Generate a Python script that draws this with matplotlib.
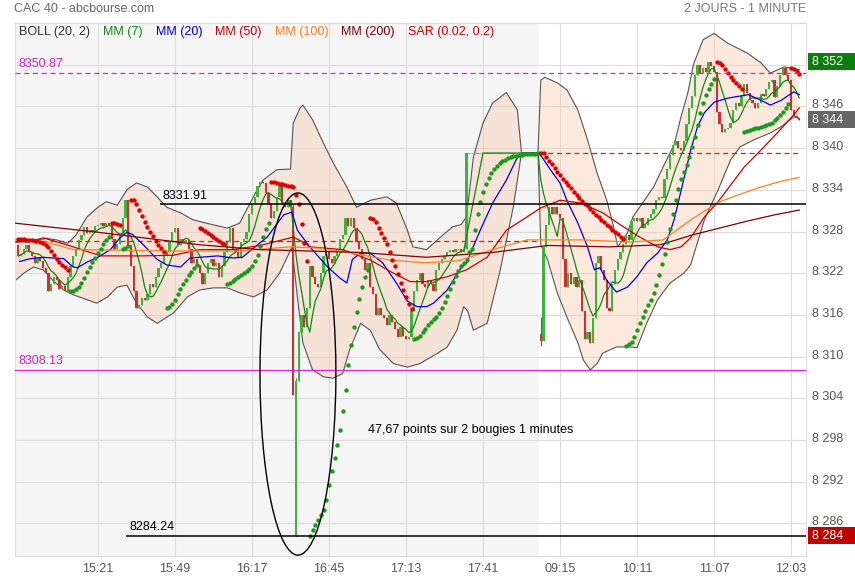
import numpy as np
import pandas as pd
import matplotlib
matplotlib.use("Agg")
import matplotlib.pyplot as plt
from matplotlib.patches import Ellipse, Rectangle
from matplotlib.transforms import blended_transform_factory, ScaledTranslation

plt.rcParams["font.family"] = ["Liberation Sans", "DejaVu Sans"]

# --- candles, 1 minute (close of each minute) ---
DAY1_CLOSE = [
    8324.5, 8324.8, 8325.5, 8326.0, 8325.0, 8324.5, 8323.5, 8324.2, 8323.8, 8322.8,
    8322.0, 8319.5, 8320.5, 8321.5, 8321.0, 8319.8, 8320.2, 8319.5, 8321.5, 8323.0,
    8324.5, 8325.5, 8326.8, 8327.5, 8328.6, 8327.8, 8328.2, 8328.0, 8328.8, 8329.0,
    8329.2, 8328.8, 8329.3, 8329.0, 8327.0, 8325.5, 8326.2, 8327.5, 8330.0, 8332.5,
    8326.0, 8323.0, 8319.5, 8317.0, 8317.5, 8318.5, 8318.2, 8319.0, 8320.5, 8320.0,
    8321.5, 8322.8, 8323.5, 8324.5, 8325.0, 8326.5, 8328.0, 8328.5, 8326.0, 8327.0,
    8326.5, 8326.8, 8325.5, 8323.5, 8324.0, 8323.2, 8322.0, 8320.5, 8322.0, 8323.5,
    8324.0, 8323.0, 8323.5, 8321.5, 8323.0, 8325.0, 8326.5, 8328.5, 8325.5, 8325.0,
    8324.2, 8326.5, 8327.0, 8328.0, 8330.5, 8332.0, 8333.0, 8334.5, 8335.2, 8335.0,
    8333.5, 8332.0, 8330.0, 8331.0, 8333.0, 8334.5, 8332.0, 8331.5, 8332.5, 8331.5,
    8304.5, 8306.5, 8313.5, 8316.0, 8314.2, 8317.0, 8323.0, 8321.5, 8320.5, 8320.0,
    8322.0, 8324.5, 8325.0, 8324.0, 8323.5, 8324.5, 8325.5, 8327.0, 8327.5, 8330.0,
    8328.8, 8330.0, 8328.5, 8326.5, 8325.5, 8324.0, 8322.5, 8323.5, 8320.0, 8319.0,
    8316.0, 8317.0, 8316.0, 8315.5, 8314.5, 8316.0, 8315.0, 8314.0, 8312.8, 8314.2,
    8313.0, 8312.5, 8312.8, 8316.5, 8319.5, 8321.0, 8322.0, 8320.5, 8320.0, 8321.0,
    8320.5, 8319.5, 8322.5, 8323.5, 8324.0, 8324.5, 8325.0, 8325.3, 8325.0, 8325.5,
    8325.5, 8325.0, 8325.5, 8339.3, 8339.3, 8339.3, 8339.3, 8339.3, 8339.3, 8339.3,
    8339.3, 8339.3, 8339.3, 8339.3, 8339.3, 8339.3, 8339.3, 8339.3, 8339.3, 8339.3,
    8339.3, 8339.3, 8339.3, 8339.3, 8339.3, 8339.3, 8339.3, 8339.3, 8339.3, 8339.3,
]
DAY2_CLOSE = [
    8312.2, 8325.8, 8329.0, 8331.5, 8330.5, 8331.5, 8330.5, 8330.0, 8324.0, 8320.0,
    8322.0, 8320.5, 8321.5, 8320.0, 8321.0, 8316.5, 8312.5, 8313.5, 8312.0, 8315.5,
    8323.5, 8324.5, 8322.5, 8321.0, 8317.0, 8316.5, 8320.5, 8322.5, 8324.0, 8325.0,
    8326.2, 8327.5, 8326.8, 8329.5, 8330.0, 8329.5, 8330.0, 8328.5, 8329.0, 8330.0,
    8330.5, 8331.2, 8332.5, 8333.0, 8332.8, 8335.5, 8337.0, 8339.0, 8340.5, 8341.0,
    8340.0, 8339.8, 8341.0, 8343.5, 8345.8, 8347.5, 8350.5, 8352.0, 8350.8, 8351.5,
    8350.9, 8352.4, 8351.8, 8351.0, 8345.2, 8343.5, 8342.3, 8342.8, 8342.9, 8343.6,
    8345.5, 8346.5, 8346.0, 8347.5, 8349.2, 8348.0, 8347.0, 8346.5, 8345.8, 8346.5,
    8347.8, 8347.5, 8348.5, 8349.5, 8349.8, 8347.3, 8349.0, 8350.5, 8351.5, 8350.5,
    8349.8, 8345.5, 8344.7, 8344.4, 8344.1,
]
FIRST_OPEN = 8326.0
# candles whose open is not the previous close
GAP_IDX = [101, 190]
GAP_OPEN = [8284.24, 8313.2]
# candles with visible wicks
WICK_IDX = [100, 101, 190]
WICK_HIGH = [8331.91, 8307.0, 8315.7]
WICK_LOW = [8304.5, 8284.24, 8311.5]
SAR_START = 8327.0

# --- indicator lines: (candle index, value) ---
BOLL_UP_X = [-1, 4, 9, 14, 18, 21, 25, 29, 32, 36, 39.5, 43, 47, 50.5, 54, 59, 63.5, 68.5,
             76, 80.5, 85.5, 89, 94, 99, 100, 102.5, 103.5, 107, 111, 114.5, 119.5, 123,
             128, 134, 137.5, 141.5, 143.5, 148.5, 153.5, 158, 161, 163, 165.5, 169,
             172.5, 177.5, 181.5, 183, 189,
             190, 191.5, 196, 199.5, 203.5, 207, 210.5, 214, 216.5, 218, 221.5, 223.5,
             227, 231, 234.5, 238.5, 241, 243.5, 245.5, 249, 253, 258, 265, 270, 273.5,
             278.5, 284]
BOLL_UP_V = [8326.5, 8326.5, 8327.1, 8326.8, 8326.3, 8327.5, 8330.1, 8331.5, 8332.3, 8331.8,
             8334.0, 8335.0, 8334.4, 8333.0, 8331.5, 8330.7, 8329.7, 8329.2, 8328.5, 8329.2,
             8333.0, 8335.4, 8336.9, 8337.0, 8343.6, 8345.8, 8346.2, 8344.1, 8340.7, 8337.9,
             8334.4, 8331.5, 8332.5, 8333.0, 8332.1, 8328.2, 8325.8, 8325.4, 8327.2, 8328.7,
             8329.0, 8330.1, 8338.7, 8343.6, 8346.5, 8348.0, 8345.5, 8339.3, 8339.3,
             8349.8, 8350.2, 8349.4, 8348.4, 8345.5, 8341.2, 8336.4, 8332.5, 8328.7, 8325.8,
             8327.8, 8330.1, 8332.1, 8334.4, 8337.3, 8340.5, 8344.5, 8348.0, 8352.0, 8355.6,
             8356.5, 8355.1, 8353.7, 8352.3, 8350.8, 8351.7, 8351.3]
BOLL_LO_X = [-1, 2, 5.5, 9, 12.5, 16.5, 20, 25, 28.5, 32.5, 36, 39.5, 43, 47, 50.5, 56.5,
             61.5, 66, 71, 76, 80.5, 85.5, 90.5, 95, 98.5, 99.5, 101.5, 103.5, 107, 111,
             114.5, 118, 120.5, 124.5, 128, 131.5, 136.5, 141.5, 146, 152.5, 156, 159.5,
             162, 163.5, 165.5, 170.5, 175, 180, 183, 189,
             190, 192.5, 196, 199.5, 203.5, 205.5, 208, 210.5, 212.5, 217.5, 222.5, 225,
             228.5, 232.5, 237, 242, 244.5, 249.5, 254.5, 259, 262.5, 267.5, 273.5, 277.5,
             282, 284]
BOLL_LO_V = [8321.0, 8322.0, 8322.9, 8322.5, 8321.0, 8319.6, 8318.9, 8318.2, 8317.7, 8318.6,
             8320.0, 8320.3, 8317.7, 8315.7, 8314.8, 8316.3, 8318.6, 8319.6, 8319.9, 8319.9,
             8319.2, 8318.6, 8319.6, 8322.0, 8324.9, 8325.8, 8318.6, 8312.0, 8308.1, 8307.1,
             8306.9, 8307.6, 8311.0, 8314.8, 8313.8, 8311.0, 8309.0, 8308.5, 8309.0, 8310.5,
             8311.4, 8313.8, 8317.2, 8316.5, 8313.8, 8314.8, 8322.0, 8331.5, 8339.3, 8339.3,
             8326.1, 8323.9, 8319.2, 8315.7, 8312.0, 8309.5, 8308.1, 8309.0, 8310.5, 8311.4,
             8311.4, 8311.3, 8314.8, 8318.2, 8320.6, 8322.0, 8323.2, 8329.7, 8334.0, 8338.3,
             8340.2, 8341.2, 8342.2, 8343.1, 8344.5, 8344.3]
MM20_X = [0.5, 4.5, 9, 12.5, 16.5, 20, 21.5, 25, 28.5, 33.5, 37, 39.5, 41.5, 45.5, 50.5, 54,
          59, 62.5, 66, 72.5, 78, 81.5, 85.5, 90.5, 96.5, 99.5, 101.5, 106, 112.5, 117,
          119.5, 121.5, 124.5, 128, 132.5, 137.5, 141.5, 145, 148.5, 151, 156, 160.5, 163,
          168, 172.5, 177.5, 181.5, 183.5, 189, 190.5, 193.5, 197, 199.5, 203.5, 207,
          209.5, 211.5, 214, 217.5, 221.5, 225, 228.5, 232.5, 236, 238.5, 244.5, 247,
          249.5, 253, 258, 265.5, 270, 273.5, 277.5, 282, 284]
MM20_V = [8323.7, 8324.1, 8324.3, 8324.2, 8324.1, 8322.9, 8322.8, 8323.6, 8324.2, 8325.4,
          8327.1, 8327.9, 8327.6, 8326.1, 8324.0, 8323.2, 8322.9, 8324.2, 8324.3, 8324.5,
          8324.2, 8324.3, 8325.6, 8327.2, 8330.4, 8330.8, 8328.2, 8325.8, 8322.9, 8321.3,
          8320.6, 8324.0, 8324.9, 8324.9, 8323.5, 8320.6, 8318.0, 8317.2, 8317.2, 8317.7,
          8319.6, 8322.5, 8323.5, 8328.2, 8332.1, 8335.4, 8338.7, 8339.2, 8339.3, 8338.7,
          8336.9, 8335.0, 8332.5, 8329.2, 8325.8, 8322.5, 8322.8, 8321.0, 8319.3, 8320.0,
          8321.5, 8323.5, 8324.9, 8326.8, 8329.7, 8339.7, 8343.1, 8345.1, 8346.6, 8347.2,
          8347.7, 8346.9, 8346.2, 8346.9, 8348.1, 8347.7]
MM50_X = [-1, 10, 20, 30, 45, 56.5, 66, 78, 88, 100, 103.5, 106, 118, 128, 136.5, 142.5,
          148.5, 156, 163, 170.5, 177.5, 185, 190, 197, 204.5, 212.5, 220, 226, 232.5, 237,
          241, 244.5, 249.5, 254.5, 264, 270, 276, 282, 284]
MM50_V = [8326.5, 8327.0, 8325.8, 8324.5, 8324.5, 8324.6, 8325.4, 8325.4, 8326.0, 8327.2,
          8326.5, 8325.8, 8325.4, 8323.9, 8322.0, 8320.8, 8320.8, 8321.5, 8322.5, 8324.3,
          8328.2, 8330.1, 8331.4, 8332.5, 8332.1, 8330.7, 8328.7, 8327.2, 8325.8, 8325.4,
          8325.8, 8327.1, 8330.1, 8332.3, 8337.3, 8339.7, 8342.2, 8344.8, 8345.8]
MM100_X = [-1, 10, 20, 40, 60, 80, 99, 110, 120, 135, 148, 160, 172.5, 185, 190, 205, 222.5,
           234.5, 245, 254.5, 262, 270, 277, 284]
MM100_V = [8326.8, 8326.5, 8325.4, 8325.3, 8325.2, 8325.2, 8325.8, 8325.6, 8325.0, 8323.9,
           8323.5, 8323.8, 8325.4, 8326.8, 8326.8, 8326.8, 8326.5, 8326.8, 8329.8, 8332.2,
           8333.3, 8334.4, 8335.2, 8335.8]
MM200_X = [-1, 29, 66, 88, 124, 148.5, 172.5, 192.5, 215, 233.5, 245, 255, 265, 275, 284]
MM200_V = [8329.2, 8327.9, 8326.1, 8325.4, 8325.0, 8324.3, 8325.0, 8326.0, 8325.8, 8326.1,
           8327.5, 8328.5, 8329.5, 8330.4, 8331.1]

PREV_CLOSE = [8326.7, 8339.3]
TICK_POS = [29, 57, 85, 113, 141, 169, 197, 225, 253, 281]
TICK_LABELS = ["15:21", "15:49", "16:17", "16:45", "17:13", "17:41",
               "09:15", "10:11", "11:07", "12:03"]
LEGEND = [("BOLL (20, 2)", "#333333"), ("MM (7)", "#118811"), ("MM (20)", "#0000dd"),
          ("MM (50)", "#cc0000"), ("MM (100)", "#ff7f1e"), ("MM (200)", "#800000"),
          ("SAR (0.02, 0.2)", "#cc0000")]
LEGEND_PX = [19, 103, 156, 215, 275, 341, 408]

GREEN = "#3cb43c"
RED = "#c83232"


def parabolic_sar(high, low, start, step=0.02, max_step=0.2):
    n = len(high)
    sar = np.empty(n)
    rising = np.zeros(n, dtype=bool)
    up, af, ep = False, step, low[0]
    sar[0] = start
    for i in range(1, n):
        s = sar[i - 1] + af * (ep - sar[i - 1])
        if up:
            s = min(s, low[i - 1], low[max(i - 2, 0)])
            if low[i] < s:
                up, s, ep, af = False, ep, low[i], step
            elif high[i] > ep:
                ep, af = high[i], min(af + step, max_step)
        else:
            s = max(s, high[i - 1], high[max(i - 2, 0)])
            if high[i] > s:
                up, s, ep, af = True, ep, high[i], step
            elif low[i] < ep:
                ep, af = low[i], min(af + step, max_step)
        sar[i] = s
        rising[i] = up
    return sar, rising


def fmt(v):
    return f"{v:,.0f}".replace(",", " ")


close = np.array(DAY1_CLOSE + DAY2_CLOSE)
n = len(close)
n1 = len(DAY1_CLOSE)
x = np.arange(n)
opn = np.concatenate([[FIRST_OPEN], close[:-1]])
opn[GAP_IDX] = GAP_OPEN
high = np.maximum(opn, close)
low = np.minimum(opn, close)
high[WICK_IDX] = np.maximum(high[WICK_IDX], WICK_HIGH)
low[WICK_IDX] = np.minimum(low[WICK_IDX], WICK_LOW)

mm7 = pd.Series(close).rolling(7, min_periods=1).mean()
sar, rising = parabolic_sar(high, low, SAR_START)

fig = plt.figure(figsize=(8.55, 5.8), dpi=100)
ax = fig.add_axes([15 / 855, 24 / 580, 791 / 855, 533 / 580])
ax.set_xlim(-1.18, 286.45)
ax.set_ylim(8281.32, 8358.01)

ax.axvspan(-1.18, n1 - 0.5, color="#f5f5f5", zorder=0, lw=0)
ax.set_axisbelow(True)
ax.grid(True, color="#dcdcdc", lw=0.8)
for sp in ax.spines.values():
    sp.set_color("#dcdcdc")

# Bollinger band
poly_x = BOLL_UP_X + BOLL_LO_X[::-1]
poly_y = BOLL_UP_V + BOLL_LO_V[::-1]
ax.fill(poly_x, poly_y, fc="#f6c9ad", alpha=0.4, lw=0, zorder=1)
ax.plot(BOLL_UP_X, BOLL_UP_V, color="#555555", lw=0.8, zorder=1.5)
ax.plot(BOLL_LO_X, BOLL_LO_V, color="#555555", lw=0.8, zorder=1.5)

# previous close, dashed
ax.hlines(PREV_CLOSE[0], -1.18, n1 - 0.5, color="#d02020", lw=0.9, ls=(0, (4, 3)), zorder=2)
ax.hlines(PREV_CLOSE[1], n1 - 0.5, n - 0.5, color="#d02020", lw=0.9, ls=(0, (4, 3)), zorder=2)

# candles
up_c = close > opn
flat = close == opn
cols = np.where(up_c, GREEN, RED)
ax.vlines(x[~flat], low[~flat], high[~flat], color=cols[~flat], lw=0.8, zorder=3)
ax.bar(x[~flat], (close - opn)[~flat], bottom=opn[~flat], width=0.75,
       color=cols[~flat], lw=0, zorder=3)
ax.hlines(close[flat], x[flat] - 0.45, x[flat] + 0.45, color="#9a9a9a", lw=0.8, zorder=3)

# moving averages
ax.plot(x, mm7, color="#118811", lw=0.9, zorder=4)
ax.plot(MM20_X, MM20_V, color="#0000dd", lw=0.9, zorder=4)
ax.plot(MM50_X, MM50_V, color="#cc0000", lw=0.9, zorder=4)
ax.plot(MM100_X, MM100_V, color="#ff7f1e", lw=0.9, zorder=4)
ax.plot(MM200_X, MM200_V, color="#800000", lw=0.9, zorder=4)

# parabolic SAR
ax.scatter(x[rising], sar[rising], s=10, color="#1a9a1a", lw=0, zorder=5)
ax.scatter(x[~rising], sar[~rising], s=10, color="#dd0000", lw=0, zorder=5)

# user drawn levels
ax.axhline(8350.87, color="#dd22dd", lw=0.9, ls=(0, (4, 3)), zorder=6)
ax.axhline(8308.13, color="#dd22dd", lw=0.9, zorder=6)
ax.hlines(8331.91, 51.5, 286.45, color="black", lw=1.1, zorder=6)
ax.hlines(8284.24, 39.2, 286.45, color="black", lw=1.1, zorder=6)
tr_lbl = blended_transform_factory(ax.transAxes, ax.transData)
ax.text(0.004, 8350.87 + 0.4, "8350.87", color="#cc22cc", fontsize=9,
        transform=tr_lbl, va="bottom", zorder=7)
ax.text(0.004, 8308.13 + 0.4, "8308.13", color="#cc22cc", fontsize=9,
        transform=tr_lbl, va="bottom", zorder=7)
ax.text(52.5, 8331.91 + 0.4, "8331.91", color="black", fontsize=9, va="bottom", zorder=7)
ax.text(40.3, 8284.24 + 0.4, "8284.24", color="black", fontsize=9, va="bottom", zorder=7)
ax.add_patch(Ellipse((101.7, 8307.5), 27.6, 52.1, fill=False, ec="black", lw=1.0, zorder=6))
ax.text(127.2, 8299.5, "47,67 points sur 2 bougies 1 minutes", fontsize=9,
        va="center", zorder=7)

# axes ticks (the top one sits under the high box)
ax.set_xticks(TICK_POS)
ax.set_xticklabels(TICK_LABELS)
yt = np.arange(8286, 8353, 6)
ax.set_yticks(yt)
ax.set_yticklabels([fmt(v) if v < 8350 else "" for v in yt])
ax.yaxis.tick_right()
ax.tick_params(length=0, labelsize=9, labelcolor="#555555")
ax.tick_params(axis="x", pad=5)
ax.tick_params(axis="y", pad=4.5)
lift = ScaledTranslation(0, 2.5 / 100, fig.dpi_scale_trans)
for lab in ax.get_yticklabels():
    lab.set_transform(lab.get_transform() + lift)

# price boxes on the right axis
for val, fc in [(high[n1:].max(), "#0a7d0a"), (close[-1], "#666666"), (low.min(), "#c00000")]:
    ax.add_patch(Rectangle((1.0025, val - 1.22), 0.07, 2.45, transform=tr_lbl,
                           fc=fc, ec="none", clip_on=False, zorder=8))
    ax.text(1.0075, val, fmt(val), transform=tr_lbl, color="white", fontsize=9,
            va="center", ha="left", zorder=9, clip_on=False)

# legend row
for (label, col), px in zip(LEGEND, LEGEND_PX):
    ax.text((px - 15) / 791, (556 - 31.5) / 533, label, color=col, fontsize=9,
            transform=ax.transAxes, va="center", ha="left", zorder=9)

fig.text(14 / 855, 1 - 9 / 580, "CAC 40 - abcbourse.com", color="#666666",
         fontsize=9, va="center", ha="left")
fig.text(806 / 855, 1 - 9 / 580, "2 JOURS - 1 MINUTE", color="#777777",
         fontsize=9, va="center", ha="right")

fig.savefig("out.png", dpi=100)
